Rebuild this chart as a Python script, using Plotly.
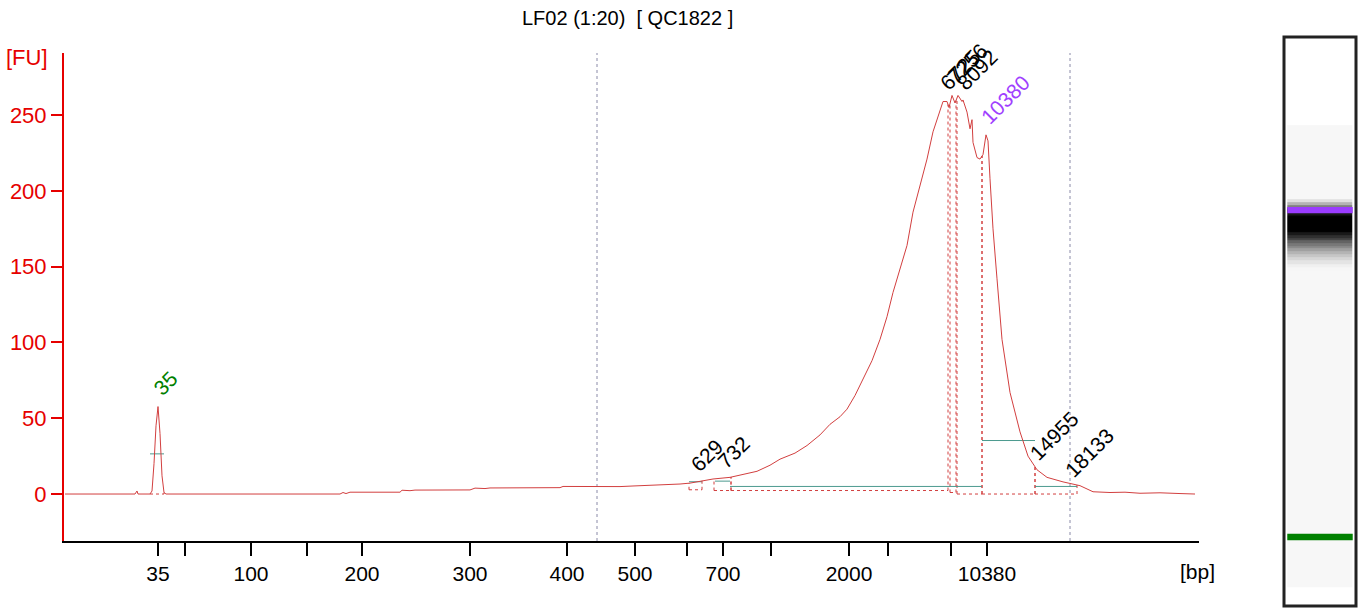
import numpy as np
import plotly.graph_objects as go

title = "LF02 (1:20)\u00a0\u00a0[ QC1822 ]"

# electropherogram: migration time (s) vs fluorescence (FU)
time_s = [20.0, 27.0, 27.2, 27.3, 28.5, 28.7, 28.9, 29.1, 29.3, 29.5, 29.7, 29.9, 30.1,
          47.5, 47.8, 48.1, 48.5, 53.5, 53.7, 54.5, 55.0, 60.5, 61.0, 62.0, 62.5, 65.5,
          69.5, 69.8, 73.5, 75.0, 75.5, 76.8, 78.5, 80.0, 81.5, 82.5, 83.5, 84.8, 86.5,
          88.0, 89.2, 90.5, 91.5, 93.0, 94.2, 95.5, 96.5, 97.5, 98.2, 99.0, 99.8, 100.7,
          101.5, 102.2, 102.8, 103.5, 104.2, 104.8, 105.5, 106.2, 106.8, 107.2, 107.5,
          107.8, 108.2, 108.4, 108.7, 109.0, 109.3, 109.7, 109.8, 110.2, 110.5, 110.7,
          110.8, 111.2, 111.5, 111.8, 112.1, 112.3, 112.5, 112.8, 113.2, 113.7, 114.5,
          115.5, 116.3, 117.2, 118.2, 119.8, 121.5, 122.8, 124.5, 126.0, 127.5, 129.5,
          131.5, 133.0]
fu = [0, 0, 2, 0, 0, 2, 20, 45, 57.7, 40, 12, 1, 0,
      0, 1, 0.3, 1.2, 1.2, 2.5, 2.2, 2.6, 2.7, 3.9, 3.6, 4.0, 3.9,
      4.2, 5.0, 4.8, 5.2, 4.9, 5.3, 5.6, 6.0, 6.6, 7.2, 8.5, 9.9, 11,
      13, 15, 19, 23, 27, 32, 39, 46, 51, 56, 65, 76, 88,
      102, 117, 133, 148, 164, 186, 203, 221, 239, 247, 252,
      259, 259, 255, 263, 258, 263, 259, 260, 252, 241, 247,
      232, 222, 221, 224, 237, 233, 208, 175, 142, 102, 67,
      41, 25, 16, 11, 8, 5.5, 1.5, 1.0, 1.2, 0.5, 0.8,
      0.3, 0]

# size ladder ticks placed on the time axis
tick_time = [29.3, 32.0, 38.6, 44.2, 49.7, 60.5, 70.2, 77.0, 82.2, 85.8, 90.6, 98.4, 102.3, 108.6, 112.2]
tick_bp = ["35", "", "100", "", "200", "300", "400", "500", "", "700", "", "2000", "", "", "10380"]
fu_ticks = [0, 50, 100, 150, 200, 250]

# smear region limits
range_limits = [73.2, 120.5]

# called peaks
peak_label = ["35", "629", "732", "6725", "7256", "8092", "10380", "14955", "18133"]
peak_time = [29.3, 83.0, 85.7, 108.0, 108.7, 109.7, 112.1, 117.0, 120.5]
peak_fu = [57.7, 7.7, 9.5, 259, 263, 259, 237, 15, 4]
peak_color = ["#008000", "black", "black", "black", "black", "black", "#a040ff", "black", "black"]

# peak start / end / baseline
region_start = [28.5, 82.4, 84.9, 86.6, 108.5, 109.2, 111.7, 117.0]
region_end = [29.9, 83.7, 86.6, 108.3, 109.1, 111.7, 117.0, 121.2]
region_base = [0, 2.8, 2.3, 2.3, 1.0, 0, 0, 0]

# peak width lines
width_start = [28.5, 82.4, 85.0, 86.5, 111.7, 117.0]
width_end = [29.9, 83.7, 86.5, 111.7, 117.0, 121.2]
width_fu = [26.5, 8.1, 8.5, 5.0, 35.3, 5.0]

# gel markers (lower / upper)
marker_time = [29.3, 112.2]
marker_color = ["#008000", "#9b3cff"]

red = "#d23f3f"
axis_red = "#e60000"
teal = "#4c9a8f"
font = "Liberation Sans"

fig = go.Figure()

for t in range_limits:
    fig.add_trace(go.Scatter(x=[t, t], y=[-31, 291], mode="lines",
                             line=dict(color="#8a8aa8", width=1, dash="dot"), hoverinfo="skip"))

# dotted peak boundaries
bx, by = [], []
for s, e, b in zip(region_start, region_end, region_base):
    for t in (s, e):
        bx += [t, t, None]
        by += [b, float(np.interp(t, time_s, fu)), None]
    bx += [s, e, None]
    by += [b, b, None]
fig.add_trace(go.Scatter(x=bx, y=by, mode="lines", line=dict(color=red, width=1, dash="dot"),
                         hoverinfo="skip"))

wx, wy = [], []
for s, e, v in zip(width_start, width_end, width_fu):
    wx += [s, e, None]
    wy += [v, v, None]
fig.add_trace(go.Scatter(x=wx, y=wy, mode="lines", line=dict(color=teal, width=1), hoverinfo="skip"))

fig.add_trace(go.Scatter(x=time_s, y=fu, mode="lines", line=dict(color=red, width=1)))

for lab, t, v, c in zip(peak_label, peak_time, peak_fu, peak_color):
    fig.add_annotation(x=t, y=v, text=lab, showarrow=False, textangle=-45,
                       xanchor="left", yanchor="bottom", xshift=-12, yshift=4,
                       font=dict(family=font, size=21, color=c))

# gel lane rendered from the trace
shade = np.clip((np.array(fu) - 50) / 190, 0, 1) * 0.97 + 0.03
fig.add_trace(go.Heatmap(x=[0, 1], y=time_s, z=[[s, s] for s in shade], xaxis="x2", yaxis="y2",
                         colorscale=[[0, "white"], [1, "black"]], zmin=0, zmax=1,
                         showscale=False, hoverinfo="skip"))
for t, c in zip(marker_time, marker_color):
    fig.add_shape(type="rect", xref="x2", yref="y2", x0=-0.5, x1=1.5, y0=t - 0.8, y1=t + 0.8,
                  fillcolor=c, line=dict(width=0))
fig.add_shape(type="rect", xref="paper", yref="paper", x0=1284 / 1361, x1=1356 / 1361,
              y0=3 / 609, y1=572 / 609, line=dict(color="#222222", width=3))

fig.add_annotation(text=title, xref="paper", yref="paper", x=627 / 1361, y=1 - 18 / 609,
                   xanchor="center", yanchor="middle", showarrow=False,
                   font=dict(family=font, size=20, color="black"))
fig.add_annotation(text="[FU]", xref="paper", yref="paper", x=27 / 1361, y=1 - 57 / 609,
                   xanchor="center", yanchor="middle", showarrow=False,
                   font=dict(family=font, size=22, color=axis_red))
fig.add_annotation(text="[bp]", xref="paper", yref="paper", x=1197 / 1361, y=1 - 571 / 609,
                   xanchor="center", yanchor="middle", showarrow=False,
                   font=dict(family=font, size=21, color="black"))

fig.update_layout(
    width=1361, height=609, margin=dict(l=0, r=0, t=0, b=0),
    paper_bgcolor="white", plot_bgcolor="white", showlegend=False,
    font=dict(family=font),
    xaxis=dict(domain=[64 / 1361, 1199 / 1361], range=[19.9, 133.4], tickvals=tick_time,
               ticktext=tick_bp, ticks="outside", ticklen=13, tickwidth=2, tickcolor="black",
               showline=True, linecolor="black", linewidth=2, showgrid=False, zeroline=False,
               tickfont=dict(size=21, color="black"), anchor="y"),
    yaxis=dict(domain=[68 / 609, 556 / 609], range=[-31, 291], tickvals=fu_ticks,
               ticks="outside", ticklen=11, tickwidth=2, tickcolor=axis_red, showline=True,
               linecolor=axis_red, linewidth=2, showgrid=False, zeroline=False,
               tickfont=dict(size=22, color=axis_red), anchor="x"),
    xaxis2=dict(domain=[1284 / 1361, 1356 / 1361], range=[-0.6, 1.6], visible=False, anchor="y2"),
    yaxis2=dict(domain=[3 / 609, 572 / 609], range=[11.8, 156.1], visible=False, anchor="x2"),
)

fig.write_html("out.html", config={"displayModeBar": False},
               post_script="document.body.style.margin = '0';")
